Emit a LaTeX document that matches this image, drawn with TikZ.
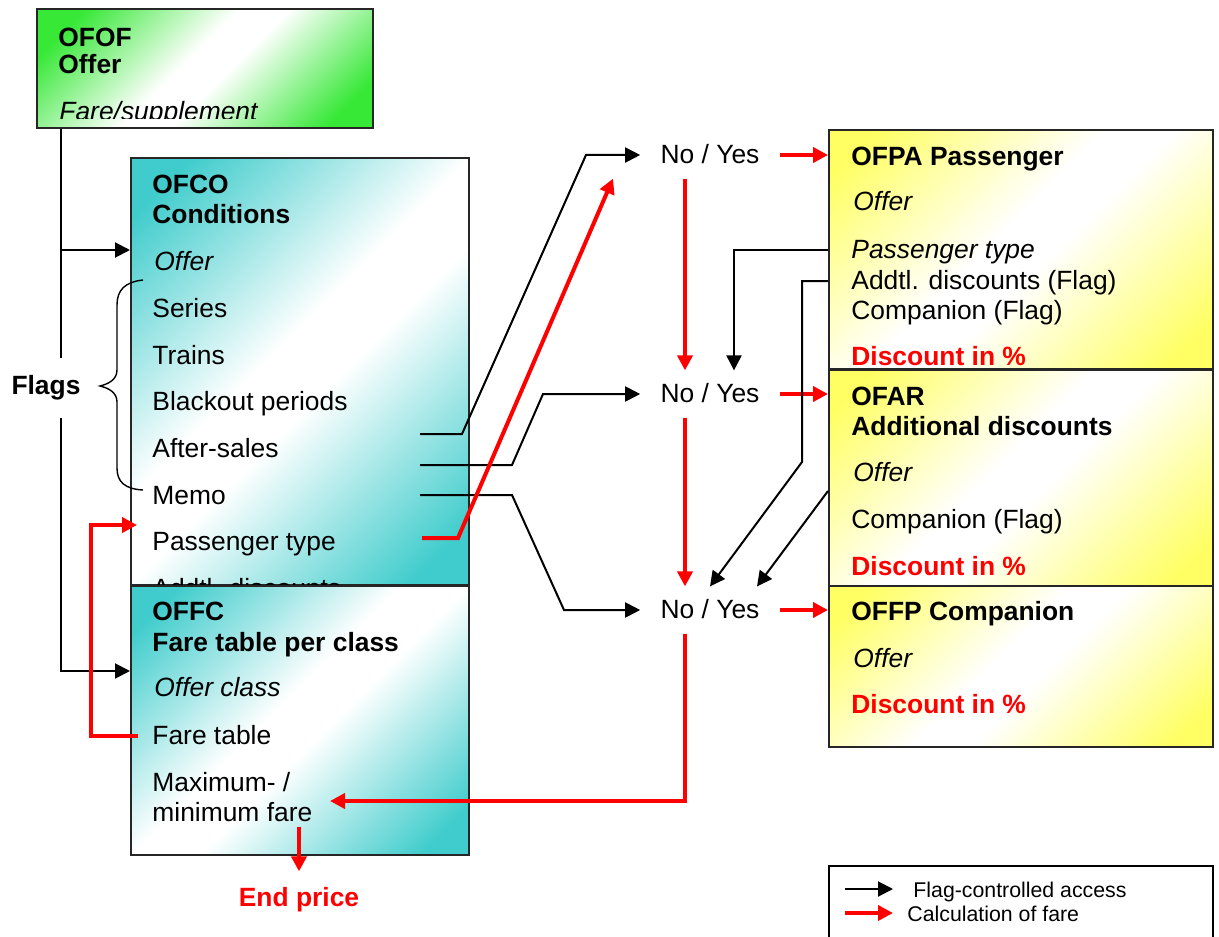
\documentclass[tikz,border=0pt]{standalone}
\usepackage{fontspec}
\setmainfont{Liberation Sans}
\usetikzlibrary{arrows.meta,fit,positioning}
\definecolor{ofgreen}{RGB}{55,232,55}
\definecolor{ofteal}{RGB}{64,204,204}
\definecolor{ofyellow}{RGB}{255,255,100}
\definecolor{farered}{RGB}{255,0,0}
\pgfdeclarehorizontalshading{greenfade}{100bp}{color(0bp)=(ofgreen); color(22bp)=(ofgreen); color(46bp)=(white); color(54bp)=(white); color(78bp)=(ofgreen); color(100bp)=(ofgreen)}
\pgfdeclarehorizontalshading{tealfade}{100bp}{color(0bp)=(ofteal); color(20bp)=(ofteal); color(46bp)=(white); color(54bp)=(white); color(80bp)=(ofteal); color(100bp)=(ofteal)}
\pgfdeclarehorizontalshading{yellowfade}{100bp}{color(0bp)=(ofyellow); color(20bp)=(ofyellow); color(46bp)=(white); color(54bp)=(white); color(80bp)=(ofyellow); color(100bp)=(ofyellow)}
\begin{document}
\fontsize{13.2}{15.8}\selectfont
\begin{tikzpicture}[x=0.5pt,y=-0.5pt,
    box/.style={draw=black!85, line width=1pt, inner sep=0pt, shading angle=-45},
    txt/.style={anchor=west, inner sep=0pt, text height=1.5ex, text depth=.25ex},
    head/.style={txt, font=\bfseries},
    key/.style={txt, font=\itshape},
    pct/.style={head, text=farered},
    small/.style={txt, font=\fontsize{10.65}{12.8}\selectfont},
    choice/.style={inner xsep=10pt, inner ysep=5.5pt, text height=1.5ex, text depth=.25ex},
    flag/.style={line width=1pt, -{Triangle[length=7.5pt,width=7.5pt]}},
    fare/.style={farered, line width=2pt, -{Triangle[length=7.5pt,width=7.5pt]}}]
    \useasboundingbox (0,0) rectangle (1219,936);
    % offer
    \node[box, shading=greenfade, fit={(37,9) (373,128)}] (ofof) {};
    \node[head] (ofofcode) at (58,38) {OFOF};
    \node[head] (ofofname) at (58,65) {Offer};
    \begin{scope}
        \clip (ofof.north west) rectangle (ofof.east |- 0,119);
        \node[key] (ofofkey) at (59,112) {Fare/supplement};
    \end{scope}
    % conditions
    \node[box, shading=tealfade, fit={(131,158) (469,585)}] (ofco) {};
    \node[head] (ofcocode) at (152,185) {OFCO};
    \node[head] (ofconame) at (152,215) {Conditions};
    \node[key] (ofcokey) at (154,262) {Offer};
    \foreach \t [count=\i] in {Series,Trains,Blackout periods,After-sales,Memo,Passenger type,Addtl. discounts}
        \node[txt] (co\i) at (152,262+46.7*\i) {\t};
    % fare table
    \node[box, shading=tealfade, fit={(131,586) (469,855)}] (offc) {};
    \node[head] (offccode) at (152,612) {OFFC};
    \node[head] (offcname) at (152,643) {Fare table per class};
    \node[key] (offckey) at (154,688) {Offer class};
    \node[txt] (fctable) at (152,736) {Fare table};
    \node[txt] (fcmax) at (152,783) {Maximum- /};
    \node[txt] (fcmin) at (152,813) {minimum fare};
    \node[head, text=farered, anchor=center] (endprice) at (299,898) {End price};
    % discounts
    \node[box, shading=yellowfade, fit={(829,130) (1213,369)}] (ofpa) {};
    \node[head] (ofpacode) at (851,157) {OFPA Passenger};
    \node[key] (pa1) at (853,202) {Offer};
    \node[key] (pa2) at (851,250) {Passenger type};
    \node[txt] (pa3) at (851,281) {Addtl. discounts (Flag)};
    \node[txt] (pa4) at (851,311) {Companion (Flag)};
    \node[pct] (pa5) at (851,357) {Discount in \%};
    \node[box, shading=yellowfade, fit={(829,370) (1213,586)}] (ofar) {};
    \node[head] (ofarcode) at (851,397) {OFAR};
    \node[head] (ofarname) at (851,427) {Additional discounts};
    \node[key] (ar1) at (853,473) {Offer};
    \node[txt] (ar2) at (851,520) {Companion (Flag)};
    \node[pct] (ar3) at (851,567) {Discount in \%};
    \node[box, shading=yellowfade, fit={(829,586) (1213,747)}] (offp) {};
    \node[head] (offpcode) at (851,612) {OFFP Companion};
    \node[key] (fp1) at (853,659) {Offer};
    \node[pct] (fp2) at (851,705) {Discount in \%};
    % switches
    \node[choice] (ny1) at (710,155) {No / Yes};
    \node[choice] (ny2) at (710,394) {No / Yes};
    \node[choice] (ny3) at (710,610) {No / Yes};
    \draw[fare] (ny1.east) -- (ofpa.west |- ny1);
    \draw[fare] (ny2.east) -- (ofar.west |- ny2);
    \draw[fare] (ny3.east) -- (offp.west |- ny3);
    \draw[fare] ([xshift=-12.5pt]ny1.south) -- ([xshift=-12.5pt]ny2.north);
    \draw[fare] ([xshift=-12.5pt]ny2.south) -- ([xshift=-12.5pt]ny3.north);
    \coordinate (farein) at (330,801);
    \draw[fare] ([xshift=-12.5pt]ny3.south) |- (farein);
    \coordinate (fareout) at (endprice.north |- 0,827);
    \draw[fare] (fareout) -- ([yshift=7pt]endprice.north);
    % flags out of the conditions
    \coordinate (cofl1) at (420,434);
    \coordinate (cofl2) at (420,465);
    \coordinate (cofl3) at (420,495);
    \coordinate (cofare) at (422,538);
    \draw[flag] (cofl1) -- ++(42,0) -- (ny1.west -| 586,0) -- (ny1.west);
    \draw[flag] (cofl2) -- ++(92,0) -- (ny2.west -| 543,0) -- (ny2.west);
    \draw[flag] (cofl3) -- ++(92,0) -- (ny3.west -| 564,0) -- (ny3.west);
    \draw[fare] (cofare) -- ++(36,0) -- ([xshift=-48.5pt]ny1.south);
    % flags out of the discounts
    \draw[flag] (ofpa.west |- pa2) -| ([xshift=12pt]ny2.north);
    \draw[flag] (ofpa.west |- pa3) -| (802,462) -- (ny3.north);
    \draw[flag] ([yshift=-6.5pt]ofar.west) -- ([xshift=23.5pt]ny3.north);
    % left side
    \draw[line width=1pt] (ofof.south -| 61,0) -- (61,358);
    \draw[flag] (61,250) -- (ofco.west |- 61,250);
    \draw[flag] (61,418) |- (offc.west |- 0,671);
    \coordinate (ptin) at (137,525);
    \draw[fare] ([xshift=-7pt]fctable.west) -- (91,736) |- (ptin);
    \node[head, anchor=center] (flags) at (46,386) {Flags};
    \draw[line width=0.7pt] (143,280) .. controls (125,282) and (117,290) .. (117,305) -- (117,370)
        .. controls (117,380) and (108,384) .. (100,386) .. controls (108,388) and (117,392) .. (117,402)
        -- (117,468) .. controls (117,482) and (125,489) .. (143,490);
    % legend
    \draw[line width=1pt] (829,866) rectangle (1213,945);
    \node[small] (leg1) at (913,889) {Flag-controlled access};
    \node[small] (leg2) at (907,913) {Calculation of fare};
    \draw[flag] ([xshift=-34pt]leg1.west) -- ([xshift=-10pt]leg1.west);
    \draw[fare] ([xshift=-31pt]leg2.west) -- ([xshift=-7pt]leg2.west);
\end{tikzpicture}
\end{document}
